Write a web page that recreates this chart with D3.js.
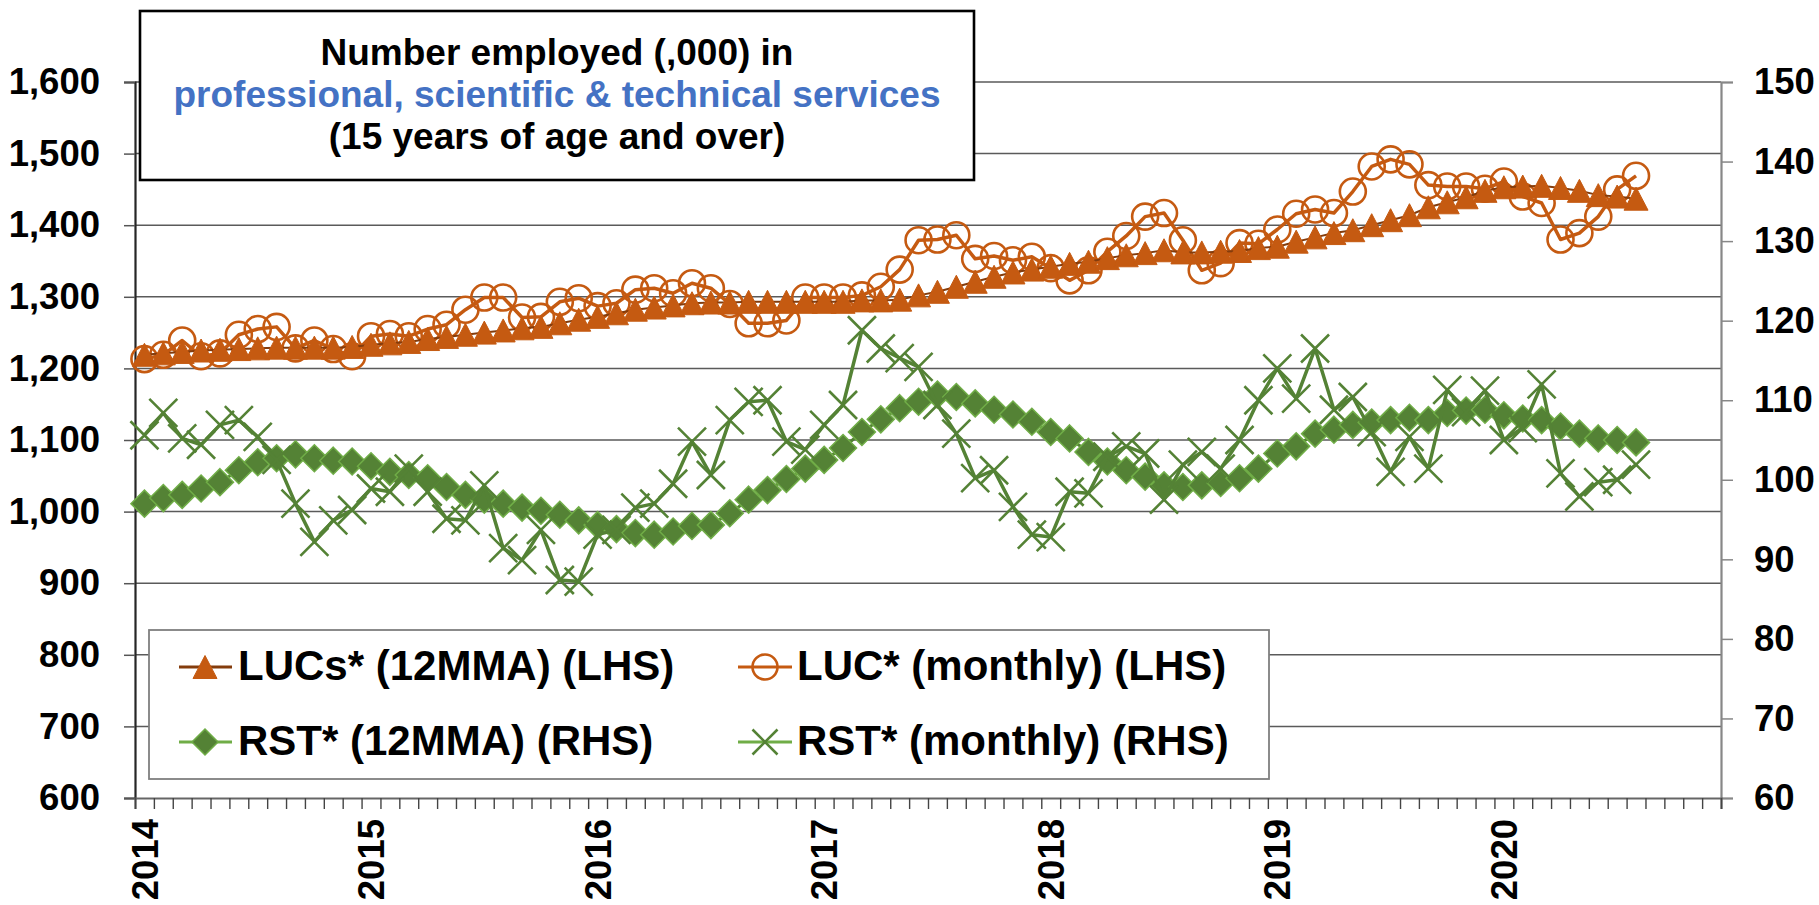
<!DOCTYPE html>
<html>
<head>
<meta charset="utf-8">
<script src="https://cdn.jsdelivr.net/npm/d3@7"></script>
<style>
  html, body { margin: 0; padding: 0; background: #ffffff; }
  svg { display: block; font-family: "Liberation Sans", Arial, sans-serif; font-weight: bold; }
</style>
</head>
<body>
<svg id="chart" width="1819" height="905"></svg>
<script>
// Monthly slots on the category axis: Jan 2014 .. Dec 2020
const monthSlots = d3.timeMonth.range(new Date(2014, 0, 1), new Date(2021, 0, 1));
const yearLabels = ["2014", "2015", "2016", "2017", "2018", "2019", "2020"];
const leftTicks = [600, 700, 800, 900, 1000, 1100, 1200, 1300, 1400, 1500, 1600];
const rightTicks = [60, 70, 80, 90, 100, 110, 120, 130, 140, 150];

// LUC* monthly, number employed (,000) — Jan 2014 .. Aug 2020 (LHS)
const lucMonthly = [
  1213, 1219, 1239, 1217, 1221, 1247, 1255, 1258, 1228, 1239, 1227, 1217,
  1245, 1248, 1245, 1255, 1261, 1282, 1299, 1299, 1271, 1272, 1293, 1298,
  1287, 1291, 1310, 1312, 1305, 1319, 1312, 1290, 1263, 1263, 1267, 1299,
  1299, 1299, 1302, 1314, 1338, 1379, 1380, 1386, 1353, 1357, 1351, 1356,
  1340, 1323, 1337, 1363, 1385, 1412, 1417, 1379, 1337, 1347, 1375, 1374,
  1394, 1416, 1422, 1417, 1447, 1482, 1492, 1485, 1456, 1454, 1454, 1451,
  1461, 1440, 1431, 1380, 1389, 1412, 1450, 1469
];
// LUCs* 12-month moving average (LHS)
const lucMA = [
  1219, 1221, 1223, 1225, 1226, 1227, 1228, 1229, 1229, 1229, 1229, 1230,
  1233, 1235, 1237, 1241, 1244, 1247, 1250, 1253, 1256, 1258, 1263, 1268,
  1272, 1277, 1282, 1285, 1288, 1291, 1292, 1292, 1293, 1293, 1293, 1293,
  1293, 1293, 1295, 1295, 1296, 1302, 1307, 1314, 1321, 1328, 1334, 1338,
  1342, 1346, 1349, 1354, 1358, 1361, 1365, 1362, 1362, 1363, 1364, 1368,
  1370, 1377, 1383, 1389, 1393, 1400, 1407, 1414, 1425, 1432, 1439, 1448,
  1453, 1454, 1455, 1452, 1448, 1442, 1440, 1437
];
// RST* 12-month moving average (RHS)
const rstMA = [
  97.0, 97.7, 98.1, 98.9, 99.7, 101.2, 102.2, 102.7, 103.2, 102.7, 102.4, 102.3,
  101.7, 101.0, 100.6, 100.2, 99.1, 98.1, 97.5, 97.0, 96.5, 96.1, 95.6, 94.9,
  94.3, 93.8, 93.3, 93.1, 93.5, 94.2, 94.3, 95.8, 97.5, 98.7, 100.1, 101.4,
  102.5, 104.0, 106.0, 107.6, 109.0, 109.8, 110.7, 110.4, 109.6, 108.8, 108.2, 107.3,
  106.0, 105.2, 103.5, 102.3, 101.2, 100.4, 99.3, 99.1, 99.3, 99.6, 100.2, 101.4,
  103.3, 104.2, 105.8, 106.3, 106.9, 107.2, 107.5, 107.8, 107.5, 108.4, 108.7, 108.8,
  108.1, 107.7, 107.5, 106.7, 105.8, 105.2, 105.0, 104.7
];
// RST* monthly (RHS)
const rstMonthly = [
  105.6, 108.4, 105.2, 104.4, 106.9, 107.5, 105.4, 102.5, 97.0, 92.2, 94.9, 96.2,
  98.9, 98.5, 101.4, 98.5, 95.1, 94.9, 99.3, 91.4, 89.9, 93.7, 87.4, 87.2,
  93.1, 93.7, 96.5, 97.0, 99.5, 104.8, 100.6, 107.5, 109.8, 110.0, 104.8, 103.8,
  106.9, 109.4, 118.8, 116.5, 115.3, 114.2, 109.4, 105.8, 100.2, 101.2, 96.6, 93.1,
  92.8, 98.5, 98.3, 102.9, 104.2, 103.3, 97.5, 101.9, 103.5, 101.4, 105.0, 110.0,
  114.0, 110.2, 116.5, 108.8, 110.4, 106.0, 101.0, 105.4, 101.4, 111.3, 108.5, 111.2,
  105.0, 106.5, 112.0, 100.8, 97.9, 99.7, 100.0, 101.9
];

const ORANGE = "#C55A11";
const ORANGE_DARK = "#843C0C";
const GREEN = "#548235";
const GREEN_LIGHT = "#70AD47";
const BLUE = "#4472C4";

const svg = d3.select("#chart");

const plot = { left: 135, right: 1721, top: 82, bottom: 798 };

// slot index scale: each month occupies one slot, points sit at slot centres
const xSlot = d3.scaleLinear().domain([0, monthSlots.length]).range([plot.left, plot.right]);
const xPoint = i => xSlot(i + 0.5);
const yL = d3.scaleLinear().domain([600, 1600]).range([plot.bottom, plot.top]);
const yR = d3.scaleLinear().domain([60, 150]).range([plot.bottom, plot.top]);

// horizontal gridlines (left-axis values)
svg.append("g")
  .selectAll("line")
  .data(leftTicks.slice(1))
  .join("line")
  .attr("x1", plot.left).attr("x2", plot.right)
  .attr("y1", d => yL(d)).attr("y2", d => yL(d))
  .attr("stroke", "#5a5a5a").attr("stroke-width", 1.5);

// left axis
const gL = svg.append("g")
  .attr("transform", `translate(${plot.left},0)`)
  .call(d3.axisLeft(yL).tickValues(leftTicks).tickFormat(d3.format(",")).tickSize(11).tickPadding(24));
gL.select(".domain").attr("stroke", "#262626").attr("stroke-width", 2.2);
gL.selectAll(".tick line").attr("stroke", "#555").attr("stroke-width", 1.5);
gL.selectAll(".tick text").attr("font-size", 36.5).attr("font-weight", "bold")
  .attr("fill", "#000").attr("font-family", "Liberation Sans, Arial, sans-serif");

// right axis
const gR = svg.append("g")
  .attr("transform", `translate(${plot.right},0)`)
  .call(d3.axisRight(yR).tickValues(rightTicks).tickSize(12).tickPadding(21));
gR.select(".domain").attr("stroke", "#878787").attr("stroke-width", 2.2);
gR.selectAll(".tick line").attr("stroke", "#878787").attr("stroke-width", 1.5);
gR.selectAll(".tick text").attr("font-size", 36.5).attr("font-weight", "bold")
  .attr("fill", "#000").attr("font-family", "Liberation Sans, Arial, sans-serif");

// bottom axis: month tick marks at slot boundaries
const gB = svg.append("g")
  .attr("transform", `translate(0,${plot.bottom})`)
  .call(d3.axisBottom(xSlot).tickValues(d3.range(monthSlots.length + 1)).tickFormat("").tickSize(11));
gB.select(".domain").attr("stroke", "#666").attr("stroke-width", 2.2);
gB.selectAll(".tick line").attr("stroke", "#444").attr("stroke-width", 1.4);

// year labels, rotated, centred on each January slot
svg.append("g")
  .selectAll("text")
  .data(yearLabels)
  .join("text")
  .attr("transform", (d, k) => `translate(${xPoint(k * 12)},${plot.bottom + 21}) rotate(-90)`)
  .attr("text-anchor", "end")
  .attr("dy", "0.36em")
  .attr("font-size", 36.5)
  .attr("fill", "#000")
  .text(d => d);

// ---- series ----
const lineL = d3.line().x((d, i) => xPoint(i)).y(d => yL(d));
const lineR = d3.line().x((d, i) => xPoint(i)).y(d => yR(d));

const triPath = (w, h) => `M0,${-h / 2}L${w / 2},${h / 2}L${-w / 2},${h / 2}Z`;
const diaPath = (r) => `M0,${-r}L${r},0L0,${r}L${-r},0Z`;
const crossPath = (r) => `M${-r},${-r}L${r},${r}M${-r},${r}L${r},${-r}`;

// LUC* monthly: line with hollow circles
svg.append("path").datum(lucMonthly)
  .attr("d", lineL).attr("fill", "none")
  .attr("stroke", ORANGE).attr("stroke-width", 3.5).attr("stroke-linejoin", "round");
svg.append("g").selectAll("circle").data(lucMonthly).join("circle")
  .attr("cx", (d, i) => xPoint(i)).attr("cy", d => yL(d)).attr("r", 13)
  .attr("fill", "none").attr("stroke", ORANGE).attr("stroke-width", 2.6);

// LUCs* 12MMA: thin dark line with filled triangles
svg.append("path").datum(lucMA)
  .attr("d", lineL).attr("fill", "none")
  .attr("stroke", ORANGE_DARK).attr("stroke-width", 2);
svg.append("g").selectAll("path").data(lucMA).join("path")
  .attr("transform", (d, i) => `translate(${xPoint(i)},${yL(d)})`)
  .attr("d", triPath(24, 23))
  .attr("fill", ORANGE).attr("stroke", ORANGE).attr("stroke-width", 1);

// RST* 12MMA: line with filled diamonds
svg.append("path").datum(rstMA)
  .attr("d", lineR).attr("fill", "none")
  .attr("stroke", GREEN).attr("stroke-width", 3);
svg.append("g").selectAll("path").data(rstMA).join("path")
  .attr("transform", (d, i) => `translate(${xPoint(i)},${yR(d)})`)
  .attr("d", diaPath(13.5))
  .attr("fill", GREEN).attr("stroke", GREEN_LIGHT).attr("stroke-width", 1.5);

// RST* monthly: line with x markers
svg.append("path").datum(rstMonthly)
  .attr("d", lineR).attr("fill", "none")
  .attr("stroke", GREEN).attr("stroke-width", 3.5).attr("stroke-linejoin", "round");
svg.append("g").selectAll("path").data(rstMonthly).join("path")
  .attr("transform", (d, i) => `translate(${xPoint(i)},${yR(d)})`)
  .attr("d", crossPath(14))
  .attr("fill", "none").attr("stroke", GREEN).attr("stroke-width", 2.6);

// ---- title box ----
const title = svg.append("g");
title.append("rect")
  .attr("x", 140).attr("y", 11).attr("width", 834).attr("height", 169)
  .attr("fill", "#fff").attr("stroke", "#000").attr("stroke-width", 2.6);
const titleLines = [
  { text: "Number employed (,000) in", color: "#000", y: 65 },
  { text: "professional, scientific & technical services", color: BLUE, y: 107 },
  { text: "(15 years of age and over)", color: "#000", y: 149 }
];
title.selectAll("text").data(titleLines).join("text")
  .attr("x", 557).attr("y", d => d.y)
  .attr("text-anchor", "middle")
  .attr("font-size", 37)
  .attr("fill", d => d.color)
  .text(d => d.text);

// ---- legend ----
const legend = svg.append("g");
legend.append("rect")
  .attr("x", 149).attr("y", 630).attr("width", 1120).attr("height", 149)
  .attr("fill", "#fff").attr("stroke", "#7f7f7f").attr("stroke-width", 1.8);

const legendItems = [
  { label: "LUCs* (12MMA) (LHS)", kind: "tri", col: 0, row: 0 },
  { label: "LUC* (monthly) (LHS)", kind: "circle", col: 1, row: 0 },
  { label: "RST* (12MMA) (RHS)", kind: "dia", col: 0, row: 1 },
  { label: "RST* (monthly) (RHS)", kind: "cross", col: 1, row: 1 }
];
const colX = [{ l1: 179, l2: 232, m: 205, t: 238 }, { l1: 738, l2: 792, m: 765, t: 797 }];
const rowY = [667, 742];

legendItems.forEach(it => {
  const c = colX[it.col], y = rowY[it.row];
  const g = legend.append("g");
  const lineColor = it.kind === "tri" ? ORANGE_DARK : (it.kind === "circle" ? ORANGE : GREEN_LIGHT);
  g.append("line").attr("x1", c.l1).attr("x2", c.l2).attr("y1", y).attr("y2", y)
    .attr("stroke", lineColor).attr("stroke-width", 3);
  if (it.kind === "tri") {
    g.append("path").attr("transform", `translate(${c.m},${y})`)
      .attr("d", triPath(24, 23)).attr("fill", ORANGE).attr("stroke", ORANGE);
  } else if (it.kind === "circle") {
    g.append("circle").attr("cx", c.m).attr("cy", y).attr("r", 12.5)
      .attr("fill", "none").attr("stroke", ORANGE).attr("stroke-width", 2.6);
  } else if (it.kind === "dia") {
    g.append("path").attr("transform", `translate(${c.m},${y})`)
      .attr("d", diaPath(13)).attr("fill", GREEN).attr("stroke", GREEN_LIGHT).attr("stroke-width", 1.5);
  } else {
    g.append("path").attr("transform", `translate(${c.m},${y})`)
      .attr("d", crossPath(12.5)).attr("fill", "none").attr("stroke", GREEN).attr("stroke-width", 2.6);
  }
  g.append("text").attr("x", c.t).attr("y", y + 13)
    .attr("font-size", 42).attr("fill", "#000").text(it.label);
});
</script>
</body>
</html>
